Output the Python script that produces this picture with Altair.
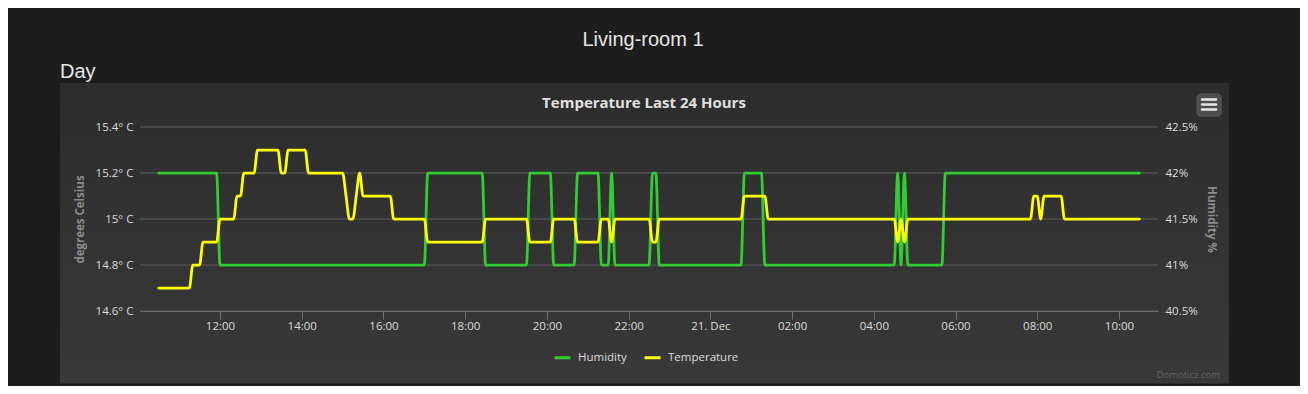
import altair as alt
import pandas as pd

# ---------------- data ----------------
# times as (day, "HH:MM"), day 20 or 21 December
temp_times = [
    (20, "10:30"), (20, "11:15"), (20, "11:20"), (20, "11:30"), (20, "11:35"), (20, "11:55"),
    (20, "12:00"), (20, "12:20"), (20, "12:25"), (20, "12:30"), (20, "12:35"), (20, "12:50"),
    (20, "12:55"), (20, "13:25"), (20, "13:30"), (20, "13:35"), (20, "13:40"), (20, "14:05"),
    (20, "14:10"), (20, "15:00"), (20, "15:05"), (20, "15:10"), (20, "15:15"), (20, "15:20"),
    (20, "15:25"), (20, "15:30"), (20, "16:10"), (20, "16:15"), (20, "17:00"), (20, "17:05"),
    (20, "18:25"), (20, "18:30"), (20, "19:30"), (20, "19:35"), (20, "20:05"), (20, "20:10"),
    (20, "20:40"), (20, "20:45"), (20, "21:15"), (20, "21:20"), (20, "21:30"), (20, "21:35"),
    (20, "21:40"), (20, "22:30"), (20, "22:35"), (20, "22:40"), (20, "22:45"), (21, "00:45"),
    (21, "00:50"), (21, "01:20"), (21, "01:25"), (21, "04:30"), (21, "04:35"), (21, "04:40"),
    (21, "04:45"), (21, "04:50"), (21, "07:50"), (21, "07:55"), (21, "08:00"), (21, "08:05"),
    (21, "08:10"), (21, "08:35"), (21, "08:40"), (21, "10:30"),
]
temp_values = [
    14.7, 14.7, 14.8, 14.8, 14.9, 14.9,
    15.0, 15.0, 15.1, 15.1, 15.2, 15.2,
    15.3, 15.3, 15.2, 15.2, 15.3, 15.3,
    15.2, 15.2, 15.1, 15.0, 15.0, 15.1,
    15.2, 15.1, 15.1, 15.0, 15.0, 14.9,
    14.9, 15.0, 15.0, 14.9, 14.9, 15.0,
    15.0, 14.9, 14.9, 15.0, 15.0, 14.9,
    15.0, 15.0, 14.9, 14.9, 15.0, 15.0,
    15.1, 15.1, 15.0, 15.0, 14.9, 15.0,
    14.9, 15.0, 15.0, 15.1, 15.1, 15.0,
    15.1, 15.1, 15.0, 15.0,
]

hum_times = [
    (20, "10:30"), (20, "11:55"), (20, "12:00"), (20, "17:00"), (20, "17:05"), (20, "18:25"),
    (20, "18:30"), (20, "19:30"), (20, "19:35"), (20, "20:05"), (20, "20:10"), (20, "20:40"),
    (20, "20:45"), (20, "21:15"), (20, "21:20"), (20, "21:30"), (20, "21:35"), (20, "21:40"),
    (20, "22:30"), (20, "22:35"), (20, "22:40"), (20, "22:45"), (21, "00:45"), (21, "00:50"),
    (21, "01:15"), (21, "01:20"), (21, "04:30"), (21, "04:35"), (21, "04:40"), (21, "04:45"),
    (21, "04:50"), (21, "05:40"), (21, "05:45"), (21, "10:30"),
]
hum_values = [
    42, 42, 41, 41, 42, 42,
    41, 41, 42, 42, 41, 41,
    42, 42, 41, 41, 42, 41,
    41, 42, 42, 41, 41, 42,
    42, 41, 41, 42, 41, 42,
    41, 41, 42, 42,
]

# x axis: visible window and tick positions
x_window = [(20, "10:02:30"), (21, "10:57:18")]
x_ticks = [(20, "12:00"), (20, "14:00"), (20, "16:00"), (20, "18:00"), (20, "20:00"),
           (20, "22:00"), (21, "00:00"), (21, "02:00"), (21, "04:00"), (21, "06:00"),
           (21, "08:00"), (21, "10:00")]

temp_ticks = [14.6, 14.8, 15.0, 15.2, 15.4]
hum_ticks = [40.5, 41.0, 41.5, 42.0, 42.5]
series_names = ["Humidity", "Temperature"]
series_colors = ["#33cc33", "#ffff00"]

page_title = "Living-room 1"
section_title = "Day"
chart_title = "Temperature Last 24 Hours"
left_title = "degrees Celsius"
right_title = "Humidity %"
credit = "Domoticz.com"

# panel background shades (top to bottom), imitating a soft vertical gradient
panel_shades = ["#2d2d2d", "#2e2e2e", "#2f2f2f", "#303030", "#313131", "#323232",
                "#333333", "#343434", "#353535", "#363636", "#373737", "#383838"]


def iso(d):
    hm = d[1] if d[1].count(":") == 2 else d[1] + ":00"
    return f"2014-12-{d[0]}T{hm}Z"


def ms(d):
    return int(pd.Timestamp(iso(d)).value // 1_000_000)


temp_df = pd.DataFrame({"t": [ms(d) for d in temp_times], "v": temp_values,
                        "series": "Temperature"})
hum_df = pd.DataFrame({"t": [ms(d) for d in hum_times], "v": hum_values,
                       "series": "Humidity"})
grid_df = pd.DataFrame({"v": temp_ticks})
one = pd.DataFrame({"k": [0]})

W, H = 1018, 184
FONT = "Open Sans"

x_scale = alt.Scale(type="utc", domain=[ms(d) for d in x_window], nice=False)
x_axis = alt.Axis(
    title=None, grid=False, domain=True, domainColor="#707070", domainWidth=1,
    ticks=True, tickColor="#707070", tickSize=8, tickWidth=1,
    values=[ms(d) for d in x_ticks],
    labelExpr="utchours(datum.value) == 0 ? utcFormat(datum.value, '%d. %b') : utcFormat(datum.value, '%H:%M')",
    labelColor="#dcdcdc", labelFont=FONT, labelFontSize=11.5, labelPadding=1,
    labelOverlap=False, labelFlush=False, zindex=1,
)
x_enc = alt.X("t:T", scale=x_scale, axis=x_axis)

temp_scale = alt.Scale(domain=[14.6, 15.4], nice=False, zero=False)
hum_scale = alt.Scale(domain=[40.5, 42.5], nice=False, zero=False)

temp_axis = alt.Axis(
    orient="left", values=temp_ticks, grid=False, domain=False, ticks=False,
    labelExpr="format(datum.value, '.1~f') + '° C'",
    labelColor="#dcdcdc", labelFont=FONT, labelFontSize=11.5, labelPadding=7,
    title=left_title, titleColor="#8c8c8c", titleFont=FONT, titleFontSize=11.5,
    titleFontWeight="bold", titleAngle=270, titleX=-60, titleY=H / 2,
    titleAlign="center", titleBaseline="middle", zindex=1,
)
hum_axis = alt.Axis(
    orient="right", values=hum_ticks, grid=False, domain=False, ticks=False,
    labelExpr="format(datum.value, '.1~f') + '%'",
    labelColor="#dcdcdc", labelFont=FONT, labelFontSize=11.5, labelPadding=7,
    title=right_title, titleColor="#8c8c8c", titleFont=FONT, titleFontSize=11.5,
    titleFontWeight="bold", titleAngle=90, titleX=52, titleY=H / 2,
    titleAlign="center", titleBaseline="middle", zindex=1,
)

legend = alt.Legend(
    orient="none", legendX=413, legendY=221, direction="horizontal", title=None,
    symbolType="stroke", symbolSize=256, symbolStrokeWidth=3,
    labelColor="#dcdcdc", labelFont=FONT, labelFontSize=11.5, labelOffset=6,
    columnPadding=11, padding=0, zindex=1,
)
color_enc = alt.Color("series:N",
                      scale=alt.Scale(domain=series_names, range=series_colors),
                      legend=legend)

# panel made of thin horizontal bands (px relative to the plot area)
PANEL_TOP, PANEL_BOTTOM = -44, 256
band_h = (PANEL_BOTTOM - PANEL_TOP) / len(panel_shades)
panel_layers = []
for i, shade in enumerate(panel_shades):
    panel_layers.append(
        alt.Chart(one).mark_rect(fill=shade).encode(
            x=alt.value(-80), x2=alt.value(1089),
            y=alt.value(PANEL_TOP + i * band_h),
            y2=alt.value(PANEL_TOP + (i + 1) * band_h + 0.5))
    )

grid = alt.Chart(grid_df).mark_rule(color="#5e5e5e", strokeWidth=1).encode(
    y=alt.Y("v:Q", scale=temp_scale, axis=None)
)

hum_line = alt.Chart(hum_df).mark_line(
    interpolate="monotone", strokeWidth=2.75, strokeJoin="round", strokeCap="round"
).encode(x=x_enc, y=alt.Y("v:Q", scale=hum_scale, axis=hum_axis), color=color_enc)

temp_line = alt.Chart(temp_df).mark_line(
    interpolate="monotone", strokeWidth=2.75, strokeJoin="round", strokeCap="round"
).encode(x=x_enc, y=alt.Y("v:Q", scale=temp_scale, axis=temp_axis), color=color_enc)


def label(text, x, y, **kw):
    return alt.Chart(one).mark_text(text=text, **kw).encode(x=alt.value(x), y=alt.value(y))


t_page = label(page_title, 503, -81, font="Liberation Sans", fontSize=20,
               color="#e6e6e6", align="center", baseline="alphabetic")
t_day = label(section_title, -80, -49.5, font="Liberation Sans", fontSize=20,
              color="#e6e6e6", align="left", baseline="alphabetic")
t_chart = label(chart_title, 504, -19.5, font=FONT, fontSize=15, fontWeight="bold",
                color="#e0e0e0", align="center", baseline="alphabetic")
t_credit = label(credit, 1080, 248, font=FONT, fontSize=9.5, color="#666666",
                 align="right", baseline="middle")

menu_box = alt.Chart(one).mark_rect(fill="#4e4e4e", stroke="#5a5a5a", strokeWidth=1,
                                    cornerRadius=3).encode(
    x=alt.value(1057), x2=alt.value(1081), y=alt.value(-33), y2=alt.value(-11))


def bar(y):
    return alt.Chart(one).mark_rule(color="#e8e8e8", strokeWidth=2.5, strokeCap="round").encode(
        x=alt.value(1062), x2=alt.value(1076), y=alt.value(y))


chart = alt.layer(
    *panel_layers, grid, hum_line, temp_line, t_page, t_day, t_chart, t_credit,
    menu_box, bar(-27.5), bar(-22.5), bar(-17.5),
).resolve_scale(y="independent").properties(
    width=W, height=H,
    padding={"left": 132, "top": 119, "right": 142, "bottom": 75},
    autosize=alt.AutoSizeParams(type="none"),
    background="#1d1d1d",
).configure_view(stroke=None)

chart.save("out.html", embed_options={"renderer": "svg", "actions": False})
